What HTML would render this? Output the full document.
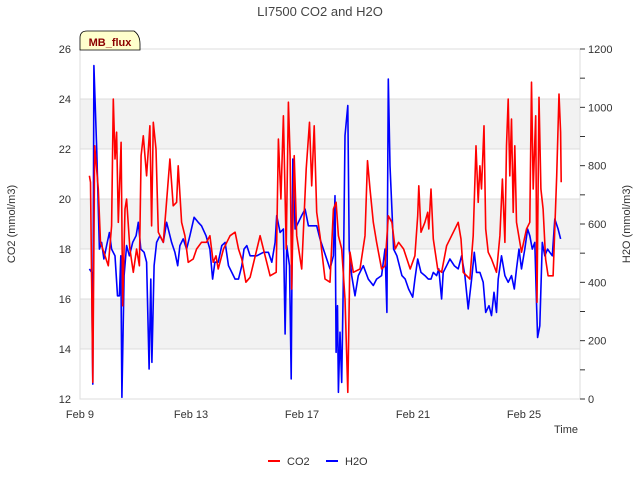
<!DOCTYPE html>
<html><head><meta charset="utf-8"><style>
body{margin:0;background:#fff;font-family:"Liberation Sans",sans-serif}
svg text{font-family:"Liberation Sans",sans-serif}
</style></head><body>
<svg id="chart" width="640" height="480" viewBox="0 0 640 480">
<text x="320" y="16" text-anchor="middle" font-size="13" fill="#444">LI7500 CO2 and H2O</text>
<g id="bands"></g>
<g id="grid"></g>
<rect x="80" y="49" width="500" height="350" fill="none" stroke="#ddd"/>
<g id="series"></g>
<g id="axes"></g>
<path d="M80,50 L80,38 Q80,31 87,31 L134,31 Q140,35 140,44 L140,50 Z" fill="#ffffcc" stroke="#000" stroke-width="0.8"/>
<text x="110" y="46" text-anchor="middle" font-size="11" font-weight="bold" fill="#8b0000">MB_flux</text>
<text x="15" y="224" text-anchor="middle" font-size="11" fill="#333" transform="rotate(-90 15 224)">CO2 (mmol/m3)</text>
<text x="630" y="224" text-anchor="middle" font-size="11" fill="#333" transform="rotate(-90 630 224)">H2O (mmol/m3)</text>
<text x="566" y="433" text-anchor="middle" font-size="11" fill="#333">Time</text>
<g>
<line x1="268" y1="461" x2="280" y2="461" stroke="#f00" stroke-width="2"/>
<text x="287" y="465" font-size="11" fill="#333">CO2</text>
<line x1="326" y1="461" x2="338" y2="461" stroke="#00f" stroke-width="2"/>
<text x="345" y="465" font-size="11" fill="#333">H2O</text>
</g>
</svg>
<script>
const co2Days=[.34,.38,.46,.53,.66,.74,.90,1.02,1.14,1.20,1.26,1.32,1.38,1.48,1.54,1.62,1.68,1.80,1.92,2.04,2.14,2.20,2.28,2.40,2.52,2.58,2.64,2.74,2.82,3.00,3.10,3.24,3.36,3.48,3.54,3.66,3.78,3.90,4.08,4.20,4.38,4.56,4.68,4.80,4.90,4.98,5.17,5.29,5.41,5.59,5.71,5.83,5.98,
6.13,6.49,6.61,6.85,7.07,7.15,7.24,7.33,7.43,7.51,7.57,7.63,7.72,7.81,7.99,8.15,8.27,8.35,8.44,8.53,8.65,8.83,9.01,9.13,9.23,9.31,9.43,9.55,9.65,9.73,9.85,10.09,10.27,10.36,10.45,10.57,10.69,10.87,10.99,11.11,11.24,11.36,11.48,11.66,11.90,
12.07,12.17,12.21,12.29,12.43,12.53,12.57,12.65,12.73,12.89,13.03,13.21,13.39,13.63,13.73,13.81,14.05,14.17,14.27,14.35,14.41,14.47,14.56,14.62,14.71,14.83,15.01,15.13,15.22,15.31,15.37,15.43,15.49,15.55,15.61,15.67,15.73,15.91,16.09,16.21,16.27,16.33,16.42,16.47,16.54,16.61,16.69,16.78,16.87,17.05,17.18,17.26,17.32,17.34];
const co2Values=[20.93,20.67,12.67,22.13,20.4,18.27,17.73,17.33,18.93,24.0,21.6,22.67,19.07,22.27,15.73,19.6,20.0,18.0,17.07,18.0,17.33,21.73,22.53,20.93,22.93,18.93,23.07,22.0,18.67,18.27,19.6,21.6,19.73,19.87,21.33,19.07,18.53,17.47,17.6,18.0,18.27,18.27,18.53,17.47,17.73,17.2,18.0,18.27,18.53,18.67,18.0,17.6,16.67,
16.87,18.53,18.0,16.93,17.07,22.4,20.0,23.33,18.0,23.87,21.73,16.4,21.73,18.53,17.2,21.2,23.07,20.53,22.93,19.47,18.53,16.8,16.67,19.6,19.87,18.53,18.0,16.0,12.27,17.87,17.07,17.2,18.53,21.53,20.4,19.07,18.27,17.2,17.33,19.33,19.07,18.0,18.27,18.0,17.2,
17.73,19.33,20.53,18.67,19.07,19.47,18.8,20.4,18.4,17.2,17.07,18.13,18.53,19.07,18.4,17.07,16.8,18.53,22.13,19.87,21.33,20.4,22.93,18.8,17.87,17.6,17.07,18.53,20.8,18.27,22.13,24.0,20.93,23.2,19.47,22.13,19.07,17.87,18.8,19.07,24.67,20.4,23.33,15.87,24.07,20.4,19.6,17.6,16.93,16.93,20.93,24.2,22.67,20.67];
const h2oDays=[.34,.42,.46,.50,.60,.70,.78,.86,.96,1.06,1.14,1.26,1.35,1.42,1.47,1.51,1.59,1.68,1.78,1.90,2.02,2.10,2.19,2.31,2.40,2.49,2.55,2.59,2.67,2.76,2.88,3.00,3.12,3.30,3.42,3.52,3.60,3.72,3.84,3.96,4.11,4.26,4.38,4.54,4.68,4.78,4.86,4.98,5.11,5.23,5.35,5.47,5.59,5.71,5.83,5.91,6.01,
6.13,6.37,6.61,6.79,6.91,7.03,7.09,7.21,7.33,7.39,7.45,7.55,7.61,7.67,7.75,7.87,7.99,8.11,8.23,8.41,8.53,8.65,8.77,8.89,9.01,9.13,9.19,9.23,9.28,9.31,9.37,9.43,9.49,9.55,9.65,9.70,9.79,9.91,10.03,10.21,10.39,10.57,10.69,10.87,10.99,11.06,11.11,11.17,11.24,11.30,11.42,11.60,11.72,11.84,11.99,
12.07,12.17,12.29,12.43,12.55,12.65,12.73,12.85,12.93,13.03,13.09,13.21,13.33,13.49,13.63,13.75,13.87,13.99,14.11,14.21,14.29,14.41,14.53,14.62,14.74,14.83,14.92,15.01,15.07,15.19,15.31,15.43,15.55,15.65,15.73,15.82,15.91,16.03,16.13,16.21,16.30,16.39,16.45,16.49,16.57,16.66,16.75,16.85,16.93,17.02,17.11,17.23,17.32];
const h2oValues=[446,434,51,1143,857,514,537,480,526,571,514,491,354,354,491,6,423,526,491,537,560,606,514,503,469,103,411,126,457,537,560,537,606,537,503,457,526,549,514,560,623,606,594,560,514,411,469,469,526,537,457,434,411,411,457,514,526,
491,491,503,503,469,537,629,571,583,223,526,457,69,823,583,606,629,651,594,594,594,549,514,480,446,491,697,160,320,23,229,57,400,903,1006,514,423,354,423,457,411,389,411,423,514,297,1097,800,651,514,491,423,411,377,349,
411,480,434,423,411,411,434,423,446,343,434,457,480,457,446,491,423,309,411,503,434,434,400,297,320,286,366,297,411,491,423,400,423,377,446,514,446,514,583,560,514,537,331,211,251,537,491,514,503,491,617,583,549];
const leftTicks=[12,14,16,18,20,22,24,26];
const rightTicks=[0,200,400,600,800,1000,1200];
const xTickDays=[0,4,8,12,16];
const xTickLabels=["Feb 9","Feb 13","Feb 17","Feb 21","Feb 25"];

const NS="http://www.w3.org/2000/svg";
const X0=80,X1=580,Y0=399,Y1=49;
const xs=d=>X0+d*27.75;
const yL=v=>Y0-(v-12)/14*(Y0-Y1);
const yR=v=>Y0-v/1200*(Y0-Y1);
function mk(tag,attrs,parent){const e=document.createElementNS(NS,tag);for(const k in attrs)e.setAttribute(k,attrs[k]);parent.appendChild(e);return e;}
const bands=document.getElementById('bands'),grid=document.getElementById('grid'),series=document.getElementById('series'),axes=document.getElementById('axes');
[14,18,22].forEach(v=>{
  const r=mk('rect',{x:X0,y:yL(v+2),width:X1-X0,height:yL(v)-yL(v+2),fill:'#f2f2f2'},bands);
  
  
});
leftTicks.forEach(v=>{
  const l=mk('line',{x1:X0,x2:X1,y1:yL(v),y2:yL(v),stroke:'#dcdcdc','stroke-width':1},grid);
  
  
  const t=mk('text',{x:71,y:yL(v)+4,'text-anchor':'end','font-size':11,fill:'#333'},axes);
  t.textContent=v;
  
  
});
for(let v=0;v<=1200;v+=100){
  const tk=mk('line',{x1:X1,x2:X1+5,y1:yR(v),y2:yR(v),stroke:'#333','stroke-width':1},axes);
  
  
}
rightTicks.forEach(v=>{
  const t=mk('text',{x:588,y:yR(v)+4,'font-size':11,fill:'#333'},axes);
  t.textContent=v;
  
  
});
xTickDays.forEach((d,i)=>{
  const t=mk('text',{x:xs(d),y:418,'text-anchor':'middle','font-size':11,fill:'#333'},axes);
  t.textContent=xTickLabels[i];
  
  
});
const h=mk('polyline',{points:h2oDays.map((d,i)=>xs(d).toFixed(1)+','+yR(h2oValues[i]).toFixed(1)).join(' '),fill:'none',stroke:'#0000ff','stroke-width':1.6,'stroke-linejoin':'round'},series);


const c=mk('polyline',{points:co2Days.map((d,i)=>xs(d).toFixed(1)+','+yL(co2Values[i]).toFixed(1)).join(' '),fill:'none',stroke:'#ff0000','stroke-width':1.6,'stroke-linejoin':'round'},series);


</script>
</body></html>
